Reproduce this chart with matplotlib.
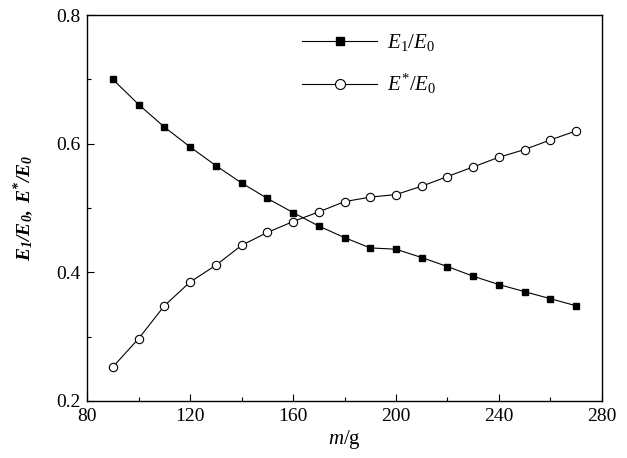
import numpy as np
import matplotlib
matplotlib.use("Agg")
import matplotlib.pyplot as plt
from matplotlib.ticker import MultipleLocator

plt.rcParams['font.family'] = ['Liberation Serif', 'DejaVu Serif']
plt.rcParams['mathtext.fontset'] = 'custom'
plt.rcParams['mathtext.rm'] = 'Liberation Serif'
plt.rcParams['mathtext.it'] = 'Liberation Serif:italic'
plt.rcParams['mathtext.bf'] = 'Liberation Serif:bold:italic'

# mass m (g)
m = [90, 100, 110, 120, 130, 140, 150, 160, 170, 180,
     190, 200, 210, 220, 230, 240, 250, 260, 270]
# E1/E0
e1_ratio = [0.700, 0.661, 0.626, 0.595, 0.566, 0.539, 0.515, 0.493, 0.472, 0.454,
            0.438, 0.436, 0.423, 0.409, 0.394, 0.381, 0.370, 0.359, 0.348]
# E*/E0
estar_ratio = [0.253, 0.297, 0.348, 0.385, 0.411, 0.442, 0.462, 0.479, 0.494, 0.510,
               0.517, 0.521, 0.534, 0.549, 0.564, 0.579, 0.591, 0.606, 0.620]

fig = plt.figure(figsize=(6.27, 4.58), dpi=100)
ax = fig.add_axes([0.139, 0.1245, 0.821, 0.8425])

ax.plot(m, e1_ratio, color='black', lw=0.8, marker='s', ms=5,
        mfc='black', mec='black', label=r'$E_1/E_0$')
ax.plot(m, estar_ratio, color='black', lw=0.8, marker='o', ms=6,
        mfc='white', mec='black', mew=0.8, label=r'$E^{*}/E_0$')

ax.set_xlim(80, 280)
ax.set_ylim(0.2, 0.8)
ax.xaxis.set_major_locator(MultipleLocator(40))
ax.xaxis.set_minor_locator(MultipleLocator(20))
ax.yaxis.set_major_locator(MultipleLocator(0.2))
ax.yaxis.set_minor_locator(MultipleLocator(0.1))
ax.yaxis.set_major_formatter(matplotlib.ticker.FormatStrFormatter('%.1f'))
ax.tick_params(which='major', direction='in', length=5, width=0.8, labelsize=14, pad=5)
ax.tick_params(which='minor', direction='in', length=3, width=0.8)
for s in ax.spines.values():
    s.set_linewidth(1.0)

ax.set_xlabel(r'$m$/g', fontsize=15, labelpad=2)
ax.set_ylabel(r'$\mathbf{E_1/E_0,\ E^{*}/E_0}$', fontsize=14, labelpad=14)

leg = ax.legend(loc='upper left', bbox_to_anchor=(0.4175, 0.956), frameon=False,
                fontsize=15, handlelength=3.6, markerscale=1.2,
                labelspacing=0.9, handletextpad=0.5,
                borderpad=0, borderaxespad=0)

fig.savefig('out.png', dpi=100)
